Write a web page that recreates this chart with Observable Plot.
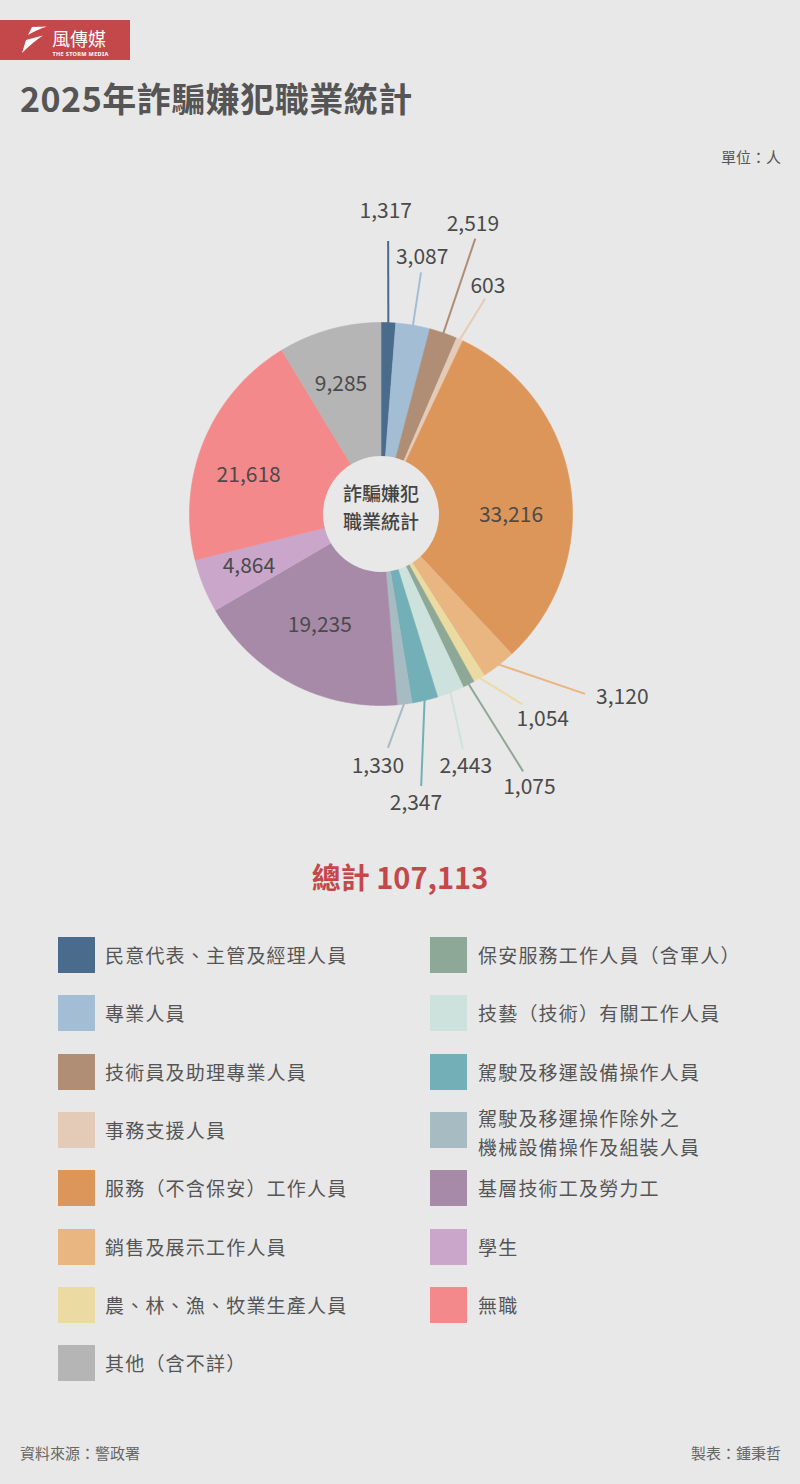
<!DOCTYPE html>
<html><head><meta charset="utf-8">
<script src="https://cdn.jsdelivr.net/npm/d3@7"></script>
<script src="https://cdn.jsdelivr.net/npm/@observablehq/plot@0.6"></script>
<style>
body{margin:0;background:#e8e8e8;font-family:"Noto Sans CJK TC","Noto Sans CJK SC",sans-serif;}
#page{position:relative;width:800px;height:1484px;background:#e8e8e8;overflow:hidden;}
.abs{position:absolute;white-space:nowrap;}
#logo{left:0;top:20px;width:130px;height:40px;background:#c4474a;}
#title{left:20px;top:79px;font-size:34px;font-weight:700;color:#555;line-height:38px;letter-spacing:0.5px;}
#unit{right:19px;top:147px;font-size:15px;color:#555;line-height:20px;}
#chart{left:0;top:130px;}
#total{left:0;width:800px;text-align:center;top:856px;font-size:29px;font-weight:700;color:#c4474a;line-height:40px;}
.sw{position:absolute;width:37px;height:36px;}
.lt{position:absolute;font-size:19px;color:#555;letter-spacing:1.2px;line-height:28px;}
#src{left:20px;top:1443px;font-size:15px;color:#666;line-height:20px;}
#maker{right:19px;top:1443px;font-size:15px;color:#666;line-height:20px;}
</style></head><body><div id="page">
<div id="logo" class="abs">
<svg width="130" height="40" style="position:absolute;left:0;top:0">
<path d="M28,15 L32,7 L47,6.5 Q38,9 28,15 Z" fill="#fff"/>
<path d="M26,20 L43,15.5 Q33,22 22,33 Z" fill="#fff"/>
<text x="52" y="26" fill="#fff" font-size="18" font-family="Noto Sans CJK TC">風傳媒</text>
<text x="52.5" y="36" fill="#fff" font-size="5.6" font-weight="700" font-family="Noto Sans, sans-serif" letter-spacing="0.3">THE STORM MEDIA</text>
</svg>
</div>
<div id="title" class="abs">2025年詐騙嫌犯職業統計</div>
<div id="unit" class="abs">單位：人</div>
<div id="chart" class="abs"></div>
<div id="total" class="abs"></div>
<div id="legend"></div>
<div id="src" class="abs">資料來源：警政署</div>
<div id="maker" class="abs">製表：鍾秉哲</div>
</div>
<script>
// ---- data ----
const categories = [
  "民意代表、主管及經理人員", "專業人員", "技術員及助理專業人員", "事務支援人員",
  "服務（不含保安）工作人員", "銷售及展示工作人員", "農、林、漁、牧業生產人員",
  "保安服務工作人員（含軍人）", "技藝（技術）有關工作人員", "駕駛及移運設備操作人員",
  "駕駛及移運操作除外之\n機械設備操作及組裝人員", "基層技術工及勞力工", "學生", "無職", "其他（含不詳）"
];
const values = [1317, 3087, 2519, 603, 33216, 3120, 1054, 1075, 2443, 2347, 1330, 19235, 4864, 21618, 9285];
const colors = ["#4a6b8c", "#a3bed4", "#b08e76", "#e3cbb8", "#dd9659", "#e9b682", "#ebdba2",
  "#8ea897", "#cde2dc", "#72afb6", "#a7bbc3", "#a78aa7", "#cba6cb", "#f3898a", "#b5b5b5"];
const centerTitle = ["詐騙嫌犯", "職業統計"];
// ---- layout (polar: degrees clockwise from top, radius in px) ----
const labelAngle  = [0.9, 9.1, 17.6, 25.1, 90.4, 127.2, 141.7, 151.5, 161.4, 173.1, 180.7, 208.8, 248.5, 286.5, 342.9];
const labelRadius = [303, 260, 304, 252, 130, 303, 261, 311, 266, 291, 252, 127, 142, 138, 136];
const leaderAngle = [1.5, 9.4, 18.9, 25.8, null, 131.4, 143.4, 151.1, 160.8, 171.6, 178.3, null, null, null, null];
const leaderRadius= [273, 245, 291, 239, null, 272, 237, 294, 249, 275, 234, null, null, null, null];

const R = 191.5, HOLE = 58;
const total = d3.sum(values);
const rad = d => d * Math.PI / 180;
const pt = (a, r) => ({x: r * Math.sin(a), y: r * Math.cos(a)});

// slices as polygons
const slicePts = [];
const mids = [];
let cum = 0;
values.forEach((v, i) => {
  const a0 = cum / total * 2 * Math.PI, a1 = (cum + v) / total * 2 * Math.PI;
  mids.push((a0 + a1) / 2);
  slicePts.push({name: categories[i], x: 0, y: 0});
  const n = Math.max(2, Math.ceil((a1 - a0) / rad(0.5)));
  for (let k = 0; k <= n; k++) {
    const p = pt(a0 + (a1 - a0) * k / n, R);
    slicePts.push({name: categories[i], ...p});
  }
  slicePts.push({name: categories[i], x: 0, y: 0});
  cum += v;
});

const labels = values.map((v, i) => ({
  name: categories[i], text: d3.format(",")(v), ...pt(rad(labelAngle[i]), labelRadius[i])
}));
const leaders = values.map((v, i) => {
  if (leaderAngle[i] == null) return null;
  const s = pt(mids[i], R - 1.5), e = pt(rad(leaderAngle[i]), leaderRadius[i]);
  return {name: categories[i], x1: s.x, y1: s.y, x2: e.x, y2: e.y};
}).filter(d => d);

const chart = Plot.plot({
  width: 800, height: 700, margin: 0,
  style: {background: "transparent", fontFamily: "'Noto Sans CJK TC', sans-serif", overflow: "visible"},
  x: {domain: [-380.5, 419.5], axis: null},
  y: {domain: [-316.5, 383.5], axis: null},
  color: {type: "ordinal", domain: categories, range: colors},
  marks: [
    Plot.link(leaders, {x1: "x1", y1: "y1", x2: "x2", y2: "y2", stroke: "name", strokeWidth: 2}),
    Plot.line(slicePts, {x: "x", y: "y", z: "name", fill: "name", stroke: "name", strokeWidth: 0.6, curve: "linear"}),
    Plot.dot([{x: 0, y: 0}], {x: "x", y: "y", r: HOLE, fill: "#e8e8e8", stroke: "none"}),
    Plot.text(centerTitle.slice(0, 1), {x: () => 0, y: () => 0, text: d => d, fontSize: 19, fontWeight: 500, fill: "#444", dy: -19}),
    Plot.text(centerTitle.slice(1), {x: () => 0, y: () => 0, text: d => d, fontSize: 19, fontWeight: 500, fill: "#444", dy: 9}),
    Plot.text(labels, {x: "x", y: "y", text: "text", fontSize: 21, fill: "#4a4a4a"})
  ]
});
document.getElementById("chart").appendChild(chart);

document.getElementById("total").textContent = "總計 " + d3.format(",")(total);

// legend
const legend = document.getElementById("legend");
const rowY = i => 955 + i * 58.3;
categories.forEach((c, i) => {
  let col, row;
  if (i < 7) { col = 0; row = i; } else if (i < 14) { col = 1; row = i - 7; } else { col = 0; row = 7; }
  const cy = rowY(row);
  const sx = col === 0 ? 58 : 430, tx = col === 0 ? 105 : 478;
  const sw = document.createElement("div");
  sw.className = "sw"; sw.style.left = sx + "px"; sw.style.top = (cy - 18) + "px"; sw.style.background = colors[i];
  legend.appendChild(sw);
  const lines = c.split("\n");
  lines.forEach((l, j) => {
    const t = document.createElement("div");
    t.className = "lt abs"; t.textContent = l;
    const off = lines.length === 1 ? 0 : (j === 0 ? -12 : 17);
    t.style.left = tx + "px"; t.style.top = (cy - 14 + off) + "px";
    legend.appendChild(t);
  });
});
</script>
</body></html>
